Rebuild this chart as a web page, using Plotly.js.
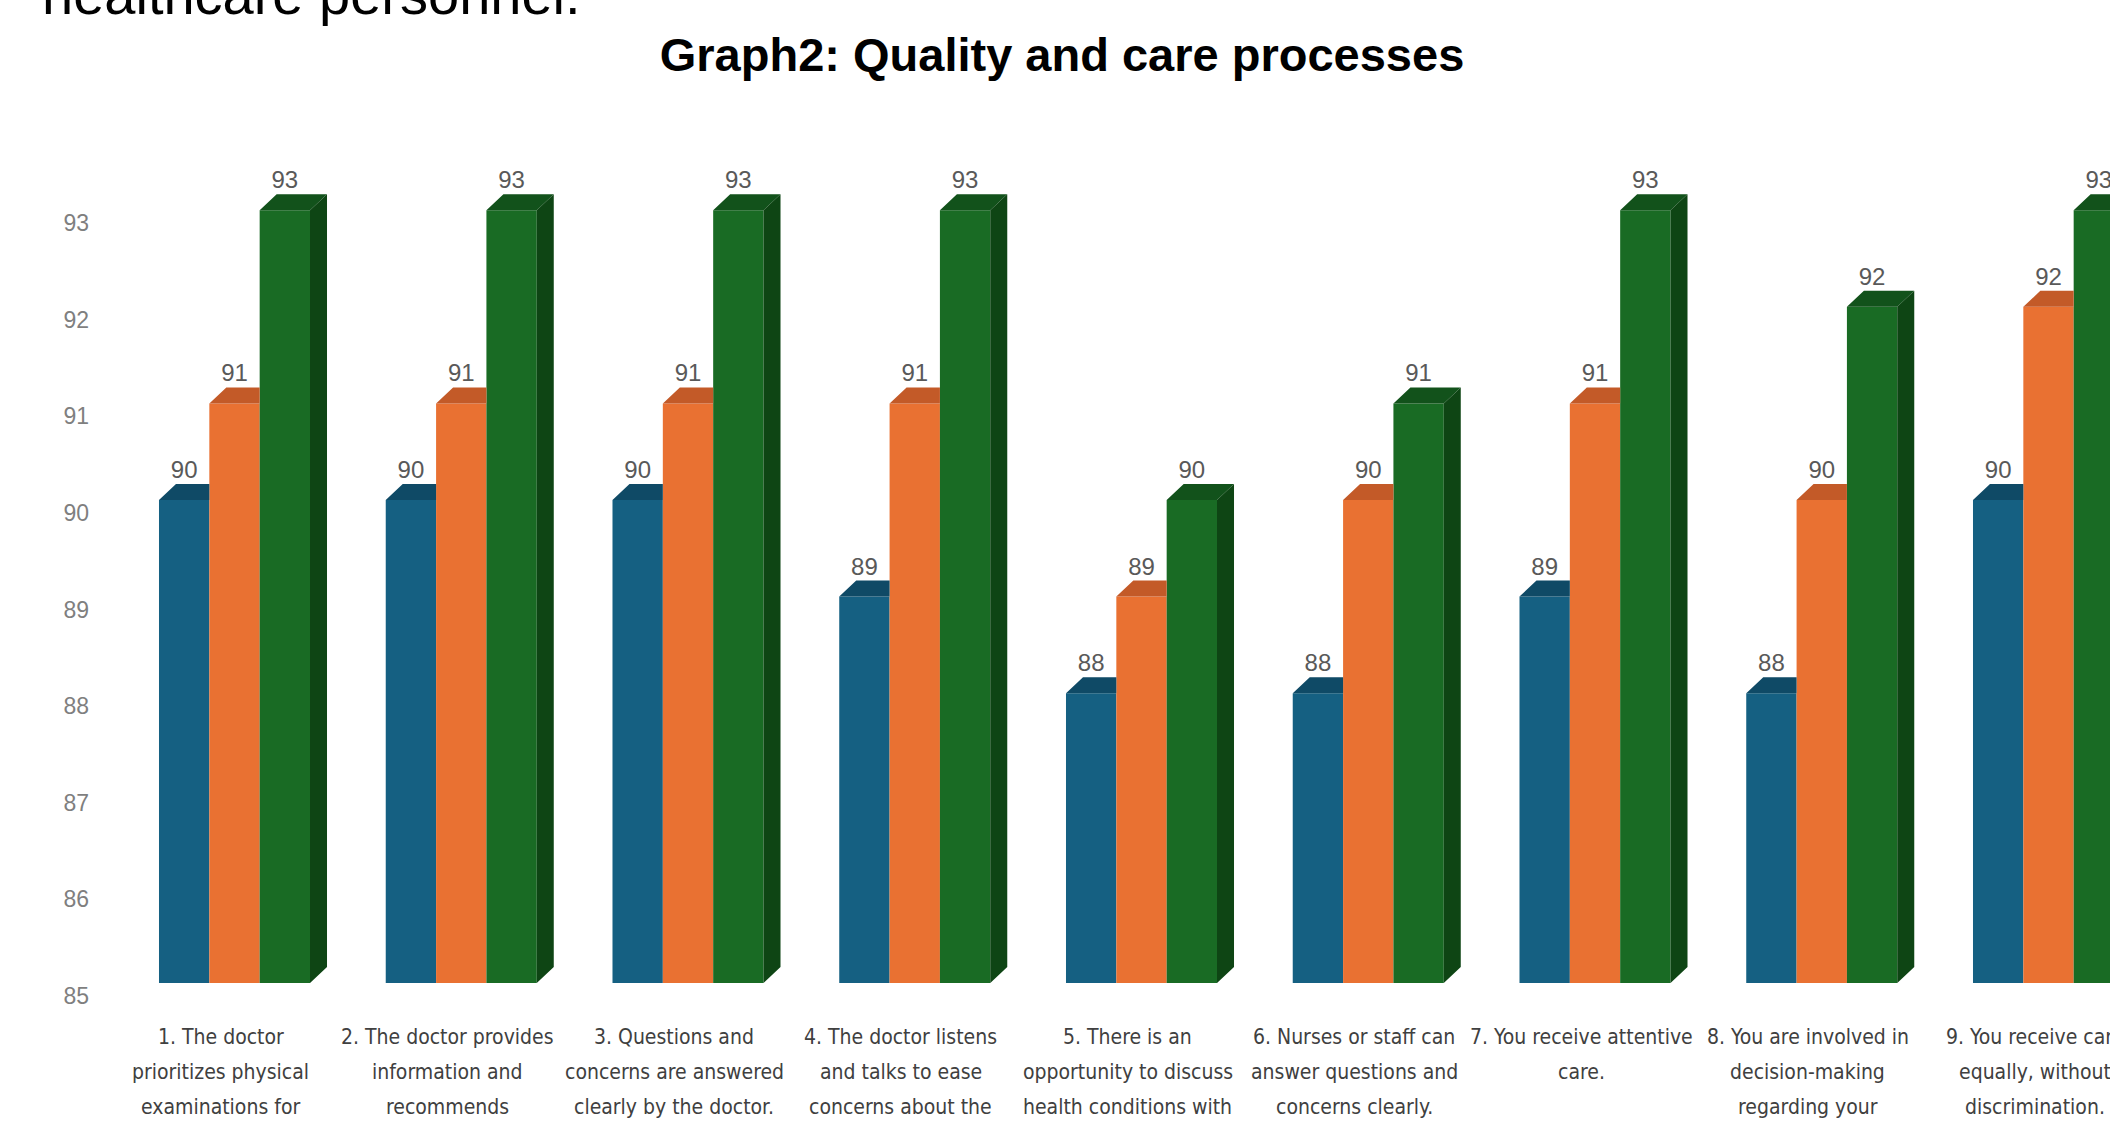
<!DOCTYPE html>
<html><head><meta charset="utf-8">
<script src="https://cdn.plot.ly/plotly-3.0.1.min.js"></script>
<style>html,body{margin:0;padding:0;background:#fff}#chart{width:2110px;height:1125px}</style>
</head><body><div id="chart"></div>
<script>
// ---- data ----
const categories = [
  '1. The doctor<br>prioritizes physical<br>examinations for',
  '2. The doctor provides<br>information and<br>recommends',
  '3. Questions and<br>concerns are answered<br>clearly by the doctor.',
  '4. The doctor listens<br>and talks to ease<br>concerns about the',
  '5. There is an<br>opportunity to discuss<br>health conditions with',
  '6. Nurses or staff can<br>answer questions and<br>concerns clearly.',
  '7. You receive attentive<br>care.',
  '8. You are involved in<br>decision-making<br>regarding your',
  '9. You receive care<br>equally, without<br>discrimination.'
];
const series1 = [90, 90, 90, 89, 88, 88, 89, 88, 90];
const series2 = [91, 91, 91, 91, 89, 90, 91, 90, 92];
const series3 = [93, 93, 93, 93, 90, 91, 93, 92, 93];
const seriesNames = ['Series 1', 'Series 2', 'Series 3'];
const yTickVals = [85, 86, 87, 88, 89, 90, 91, 92, 93];
const yTickText = ['85', '86', '87', '88', '89', '90', '91', '92', '93'];
const topText = 'healthcare personnel.';
const chartTitle = 'Graph2: Quality and care processes';

// ---- styling / geometry ----
const frontColors = ['#156082', '#E97132', '#196B24'];
const topColors = ['#0f4a66', '#c35a28', '#12521b'];
const sideColors = ['#0d3f57', '#a84c1f', '#0e4514'];
const BAR_GAP = 0.334;
const allSeries = [series1, series2, series3];
const nS = allSeries.length;
const W = (1 - BAR_GAP) / nS;
const PX_X = 226.75, PX_Y = 96.6;
const DX = 17 / PX_X, DY = 16 / PX_Y;
const SHIFT = 13 / PX_Y;
const BASE = 85;
const ML = 100, MR = 0, MT = 120, MB = 129;
const PLOT_H = 1125 - MT - MB;
const Y_TOP = 85 + PLOT_H / PX_Y;
const X0 = -(234.5 - ML) / PX_X;
const X1 = X0 + (2110 - ML - MR) / PX_X;
const idx = categories.map((_, i) => i);
const LABEL_SHIFT = -14 / PX_X;
const LABEL_FIRST = 41;   // px below axis for first line centre
const LABEL_STEP = 35;    // px between lines

const traces = [];
traces.push({type: 'scatter', x: [0], y: [85], xaxis: 'x', yaxis: 'y', mode: 'markers',
  marker: {opacity: 0}, hoverinfo: 'skip', showlegend: false});

allSeries.forEach((vals, k) => {
  traces.push({type: 'bar', name: seriesNames[k], x: idx, y: vals.map(v => v - BASE), base: BASE,
    xaxis: 'x', yaxis: 'y2', marker: {color: frontColors[k], line: {width: 0}}, hoverinfo: 'skip'});
});

allSeries.forEach((vals, k) => {
  const tx = [], ty = [], sx = [], sy = [];
  vals.forEach((v, i) => {
    const c = i + (k - (nS - 1) / 2) * W;
    const xl = c - W / 2, xr = c + W / 2;
    const next = k < nS - 1 ? allSeries[k + 1][i] : null;
    if (next !== null && next >= v) {
      tx.push(xl, xl + DX, xr, xr, xl, null);
      ty.push(v, v + DY, v + DY, v, v, null);
    } else {
      tx.push(xl, xl + DX, xr + DX, xr, xl, null);
      ty.push(v, v + DY, v + DY, v, v, null);
      sx.push(xr, xr + DX, xr + DX, xr, xr, null);
      sy.push(v, v + DY, BASE + DY, BASE, v, null);
    }
  });
  traces.push({type: 'scatter', x: tx, y: ty, xaxis: 'x', yaxis: 'y2', mode: 'lines', fill: 'toself',
    fillcolor: topColors[k], line: {width: 0, color: topColors[k]}, hoverinfo: 'skip', showlegend: false});
  if (sx.length) {
    traces.push({type: 'scatter', x: sx, y: sy, xaxis: 'x', yaxis: 'y2', mode: 'lines', fill: 'toself',
      fillcolor: sideColors[k], line: {width: 0, color: sideColors[k]}, hoverinfo: 'skip', showlegend: false});
  }
});

allSeries.forEach((vals, k) => {
  traces.push({type: 'scatter', x: idx.map(i => i + (k - (nS - 1) / 2) * W), y: vals.map(v => v + DY),
    xaxis: 'x', yaxis: 'y2', mode: 'text', text: vals.map(String), textposition: 'top center',
    textfont: {family: 'Liberation Sans, Arial, sans-serif', size: 24, color: '#595959'},
    hoverinfo: 'skip', showlegend: false});
});

// category labels, one annotation per line for the wider line spacing
const annotations = [];
categories.forEach((cat, i) => {
  cat.split('<br>').forEach((line, j) => {
    annotations.push({text: line, xref: 'x', yref: 'paper', x: i + LABEL_SHIFT,
      y: -(LABEL_FIRST + LABEL_STEP * j) / PLOT_H, xanchor: 'center', yanchor: 'middle', showarrow: false,
      font: {family: 'DejaVu Sans Condensed, DejaVu Sans, sans-serif', size: 21, color: '#404040', stretch: 'condensed'}});
  });
});
annotations.push({text: topText, xref: 'paper', yref: 'paper', x: (40 - ML) / (2110 - ML - MR),
  y: (PLOT_H + MT + 6) / PLOT_H, xanchor: 'left', yanchor: 'middle', showarrow: false,
  font: {family: 'Liberation Sans, Arial, sans-serif', size: 56, color: '#000000'}});

const layout = {
  width: 2110, height: 1125,
  margin: {l: ML, r: MR, t: MT, b: MB, pad: 0},
  paper_bgcolor: '#ffffff', plot_bgcolor: '#ffffff',
  showlegend: false, hovermode: false,
  barmode: 'group', bargap: BAR_GAP, bargroupgap: 0,
  title: {text: '<b>' + chartTitle + '</b>',
    font: {family: 'Liberation Sans, Arial, sans-serif', size: 47, color: '#000000'},
    x: 1062 / 2110, xanchor: 'center', xref: 'container',
    y: 1 - 55 / 1125, yanchor: 'middle', yref: 'container'},
  xaxis: {range: [X0, X1], tickvals: idx, showticklabels: false, showgrid: false, zeroline: false,
    showline: false, ticks: '', automargin: false, fixedrange: true},
  yaxis: {range: [BASE, Y_TOP], tickvals: yTickVals, ticktext: yTickText, showgrid: false, zeroline: false,
    showline: false, ticks: '', ticklabelstandoff: 10, automargin: false,
    tickfont: {family: 'Liberation Sans, Arial, sans-serif', size: 23, color: '#7f7f7f'}, fixedrange: true},
  yaxis2: {overlaying: 'y', range: [BASE - SHIFT, Y_TOP - SHIFT], visible: false, fixedrange: true},
  annotations: annotations
};

Plotly.newPlot('chart', traces, layout, {staticPlot: true, displayModeBar: false});
</script>
</body></html>
